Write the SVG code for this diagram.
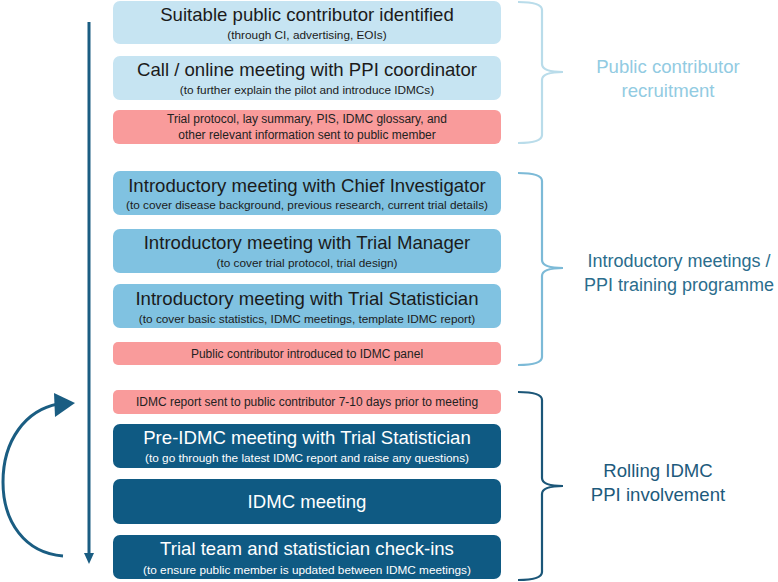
<svg xmlns="http://www.w3.org/2000/svg" width="778" height="582" viewBox="0 0 778 582">
<defs>
<style>
.t{font-family:"Liberation Sans",Arial,sans-serif;text-anchor:middle}
.ti{font-size:18.6px;fill:#1b1b1b}
.su{font-size:11.8px;fill:#1b1b1b}
.pk{font-size:12px;fill:#222}
.w{fill:#ffffff}
.lab{font-size:18.6px}
.lab2{font-size:18px}
.b1{fill:#c6e4f2}
.b2{fill:#80c2e1}
.b3{fill:#f99b9b}
.b4{fill:#0f5a83}
.br{fill:none;stroke-width:2.2}
.flow{fill:none;stroke:#1a5d82;stroke-width:3}
</style>
</defs>
<rect width="778" height="582" fill="#ffffff"/>

<g id="connectors">
<line class="flow" x1="89" y1="22" x2="89" y2="556"/>
<path d="M84,553 L94,553 L89,564 z" fill="#1a5d82"/>
<path class="flow" d="M63,556 C25,553 3,522 3,482 C3,440 26,410 58,404"/>
<path d="M54,393 L75,403 L55,417 z" fill="#1a5d82"/>
</g>

<g id="n1">
<rect class="b1" x="113" y="1" width="388" height="43" rx="7"/>
<text class="t ti" x="307" y="21">Suitable public contributor identified</text>
<text class="t su" x="307" y="39">(through CI, advertising, EOIs)</text>
</g>
<g id="n2">
<rect class="b1" x="113" y="56" width="388" height="44" rx="7"/>
<text class="t ti" x="307" y="76">Call / online meeting with PPI coordinator</text>
<text class="t su" x="307" y="94">(to further explain the pilot and introduce IDMCs)</text>
</g>
<g id="n3">
<rect class="b3" x="113" y="110" width="388" height="34" rx="6"/>
<text class="t pk" x="307" y="123">Trial protocol, lay summary, PIS, IDMC glossary, and</text>
<text class="t pk" x="307" y="139">other relevant information sent to public member</text>
</g>

<g id="n4">
<rect class="b2" x="113" y="171" width="388" height="44" rx="7"/>
<text class="t ti" x="307" y="192">Introductory meeting with Chief Investigator</text>
<text class="t su" x="307" y="209">(to cover disease background, previous research, current trial details)</text>
</g>
<g id="n5">
<rect class="b2" x="113" y="229" width="388" height="44" rx="7"/>
<text class="t ti" x="307" y="249">Introductory meeting with Trial Manager</text>
<text class="t su" x="307" y="267">(to cover trial protocol, trial design)</text>
</g>
<g id="n6">
<rect class="b2" x="113" y="284" width="388" height="44" rx="7"/>
<text class="t ti" x="307" y="305">Introductory meeting with Trial Statistician</text>
<text class="t su" x="307" y="323">(to cover basic statistics, IDMC meetings, template IDMC report)</text>
</g>
<g id="n7">
<rect class="b3" x="113" y="342" width="388" height="23" rx="5"/>
<text class="t pk" x="307" y="358">Public contributor introduced to IDMC panel</text>
</g>

<g id="n8">
<rect class="b3" x="113" y="390" width="388" height="24" rx="5"/>
<text class="t pk" x="307" y="406">IDMC report sent to public contributor 7-10 days prior to meeting</text>
</g>
<g id="n9">
<rect class="b4" x="113" y="424" width="388" height="44" rx="7"/>
<text class="t ti w" x="307" y="444">Pre-IDMC meeting with Trial Statistician</text>
<text class="t su w" x="307" y="462">(to go through the latest IDMC report and raise any questions)</text>
</g>
<g id="n10">
<rect class="b4" x="113" y="479" width="388" height="45" rx="7"/>
<text class="t ti w" x="307" y="508">IDMC meeting</text>
</g>
<g id="n11">
<rect class="b4" x="113" y="535" width="388" height="44" rx="7"/>
<text class="t ti w" x="307" y="555">Trial team and statistician check-ins</text>
<text class="t su w" x="307" y="574">(to ensure public member is updated between IDMC meetings)</text>
</g>

<g id="brace1">
<path class="br" stroke="#b9dcea" d="M518,2 Q542,2 542,10 L542,64 Q542,72 563,72 Q542,72 542,80 L542,135 Q542,143 518,143"/>
<text class="t lab" fill="#92cbe2" x="668" y="73">Public contributor</text>
<text class="t lab" fill="#92cbe2" x="668" y="97">recruitment</text>
</g>
<g id="brace2">
<path class="br" stroke="#7cbad7" d="M518,173 Q542,173 542,181 L542,260 Q542,268 563,268 Q542,268 542,276 L542,357 Q542,365 518,365"/>
<text class="t lab2" fill="#2b6d8d" x="679" y="267">Introductory meetings /</text>
<text class="t lab2" fill="#2b6d8d" x="679" y="291">PPI training programme</text>
</g>
<g id="brace3">
<path class="br" stroke="#1b5678" d="M518,392 Q542,392 542,400 L542,478 Q542,486 563,486 Q542,486 542,494 L542,572 Q542,580 518,580"/>
<text class="t lab" fill="#1d5a7c" x="658" y="477">Rolling IDMC</text>
<text class="t lab" fill="#1d5a7c" x="658" y="501">PPI involvement</text>
</g>
</svg>
